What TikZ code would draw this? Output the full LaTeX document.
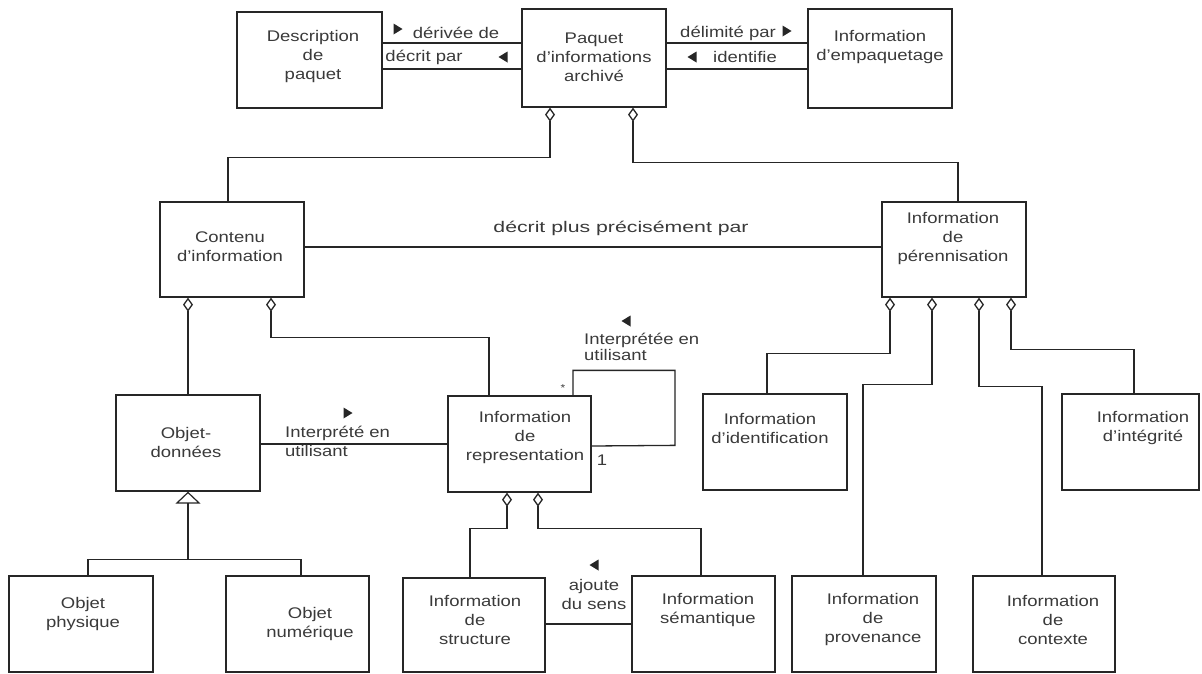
\documentclass[tikz,border=0pt]{standalone}
\usepackage{fontspec}
\setmainfont{Liberation Sans}[FakeStretch=1.2]
\usetikzlibrary{arrows.meta}
\definecolor{ink}{HTML}{262626}
\definecolor{txt}{HTML}{3A3A3A}

\begin{document}
\begin{tikzpicture}[x=1pt,y=-1pt,
  box/.style={draw=ink, line width=1.3pt, minimum width=144pt, minimum height=96pt, inner sep=0pt},
  lbl/.style={text=txt, font=\fontsize{15.4}{19}\selectfont, align=center, inner sep=0pt},
  link/.style={draw=ink, line width=1.3pt},
  agg/.style={link, {Diamond[open,length=14pt,width=10pt,line width=1.3pt]}-},
  gen/.style={link, {Triangle[open,length=12pt,width=25pt,line width=1.2pt]}-},
  rtri/.pic={\fill[ink] (-4.5,-5.5) -- (4.5,0) -- (-4.5,5.5) -- cycle;},
  ltri/.pic={\fill[ink] (4.5,-5.5) -- (-4.5,0) -- (4.5,5.5) -- cycle;},
]
\fill[white] (0,0) rectangle (1202,673);
\useasboundingbox (0,0) rectangle (1202,673);

% ---- classes ----
\node[box, minimum width=145pt] (desc)   at (309.5,60)  {};
\node[box, minimum height=98pt] (paquet) at (594,58)    {};
\node[box, minimum height=99pt] (emp)    at (880,58.5)  {};
\node[box, minimum height=95pt] (contenu) at (232,249.5) {};
\node[box, minimum height=95pt] (peren)  at (954,249.5) {};
\node[box] (objdon) at (188,443) {};
\node[box, minimum width=143pt] (repr) at (519.5,444) {};
\node[box] (ident)  at (775,442) {};
\node[box, minimum width=137pt] (integ)  at (1130.5,442) {};
\node[box] (phys)   at (81,624) {};
\node[box, minimum width=143pt] (num)    at (297.5,624) {};
\node[box, minimum width=142pt, minimum height=94pt] (struct) at (474,625) {};
\node[box, minimum width=143pt] (sem)    at (703.5,624) {};
\node[box] (prov)   at (864,624) {};
\node[box, minimum width=142pt] (ctx)    at (1044,624) {};

% ---- class names ----
\node[lbl] (descT)    at (313,57)    {Description\\de\\paquet};
\node[lbl] (paquetT)  at (594,57)    {Paquet\\d’informations\\archivé};
\node[lbl] (empT)     at (880,47)    {Information\\d’empaquetage};
\node[lbl] (contenuT) at (230,246.5) {Contenu\\d’information};
\node[lbl] (perenT)   at (953,239)   {Information\\de\\pérennisation};
\node[lbl] (objdonT)  at (186,442)   {Objet-\\données};
\node[lbl] (reprT)    at (525,438)   {Information\\de\\representation};
\node[lbl] (identT)   at (770,428)   {Information\\d’identification};
\node[lbl] (integT)   at (1143,428)  {Information\\d’intégrité};
\node[lbl] (physT)    at (83,614.5)  {Objet\\physique};
\node[lbl] (numT)     at (310,624)   {Objet\\numérique};
\node[lbl] (structT)  at (475,620)   {Information\\de\\structure};
\node[lbl] (semT)     at (708,610.5) {Information\\sémantique};
\node[lbl] (provT)    at (873,620)   {Information\\de\\provenance};
\node[lbl] (ctxT)     at (1053,620)  {Information\\de\\contexte};

% ---- associations ----
\draw[link] ([yshift=17pt]desc.east) -- ([yshift=17pt]desc.east -| paquet.west);
\draw[link] ([yshift=-9pt]desc.east) -- ([yshift=-9pt]desc.east -| paquet.west);
\draw[link] ([yshift=15pt]paquet.east) -- ([yshift=15pt]paquet.east -| emp.west);
\draw[link] ([yshift=-11pt]paquet.east) -- ([yshift=-11pt]paquet.east -| emp.west);
\draw[link] ([yshift=2.5pt]contenu.east) -- ([yshift=2.5pt]contenu.east -| peren.west);
\draw[link] ([yshift=-1pt]objdon.east) -- ([yshift=-1pt]objdon.east -| repr.west);
\draw[link] ([yshift=1pt]struct.east) -- ([yshift=1pt]struct.east -| sem.west);
% self association of the representation class
\draw[link] ([xshift=53.5pt]repr.north) -- ++(0,-25) -| ++(102,75) -- ([yshift=-2pt]repr.east);

% ---- aggregations ----
\draw[agg] ([xshift=-44pt]paquet.south) -- ++(0,50) -| ([xshift=-4pt]contenu.north);
\draw[agg] ([xshift=39pt]paquet.south) -- ++(0,55) -| ([xshift=4pt]peren.north);
\draw[agg] ([xshift=-44pt]contenu.south) -- (objdon.north);
\draw[agg] ([xshift=39pt]contenu.south) -- ++(0,40) -| ([xshift=-30.5pt]repr.north);
\draw[agg] ([xshift=-64pt]peren.south) -- ++(0,56) -| ([xshift=-8pt]ident.north);
\draw[agg] ([xshift=-22pt]peren.south) -- ++(0,87) -| ([xshift=-1pt]prov.north);
\draw[agg] ([xshift=25pt]peren.south) -- ++(0,89) -| ([xshift=-2pt]ctx.north);
\draw[agg] ([xshift=57pt]peren.south) -- ++(0,52) -| ([xshift=3.5pt]integ.north);
\draw[agg] ([xshift=-12.5pt]repr.south) -- ++(0,36) -| ([xshift=-4pt]struct.north);
\draw[agg] ([xshift=18.5pt]repr.south) -- ++(0,36) -| ([xshift=-2.5pt]sem.north);

% ---- generalisation ----
\draw[gen] (objdon.south) -- ++(0,68) coordinate (gj);
\draw[link] (gj) -| ([xshift=7pt]phys.north);
\draw[link] (gj) -| ([xshift=3.5pt]num.north);

% ---- association names ----
\node[lbl] (l1) at (456,33)  {dérivée de};
\pic at (398,29) {rtri};
\node[lbl] (l2) at (424,57)  {décrit par};
\pic at (503,57) {ltri};
\node[lbl] (l3) at (728,33)  {délimité par};
\pic at (787,31) {rtri};
\node[lbl] (l4) at (745,57)  {identifie};
\pic at (692,57) {ltri};
\node[lbl] (l5) at (621,228) {\scalebox{1.15}[1]{décrit plus précisément par}};
\node[lbl, align=left, anchor=west] (l6) at (285,441.5) {Interprété en\\utilisant};
\pic at (348,413) {rtri};
\node[lbl, align=left, anchor=west, font=\fontsize{15.4}{16.5}\selectfont] (l7) at (584,347) {Interprétée en\\utilisant};
\pic at (626,321) {ltri};
\node[lbl] (l8) at (594,594.5) {ajoute\\du sens};
\pic at (594,565) {ltri};
\node[lbl, font=\fontsize{10}{12}\selectfont] (m1) at (563,388) {*};
\node[lbl] (m2) at (602,460) {1};
\end{tikzpicture}
\end{document}
